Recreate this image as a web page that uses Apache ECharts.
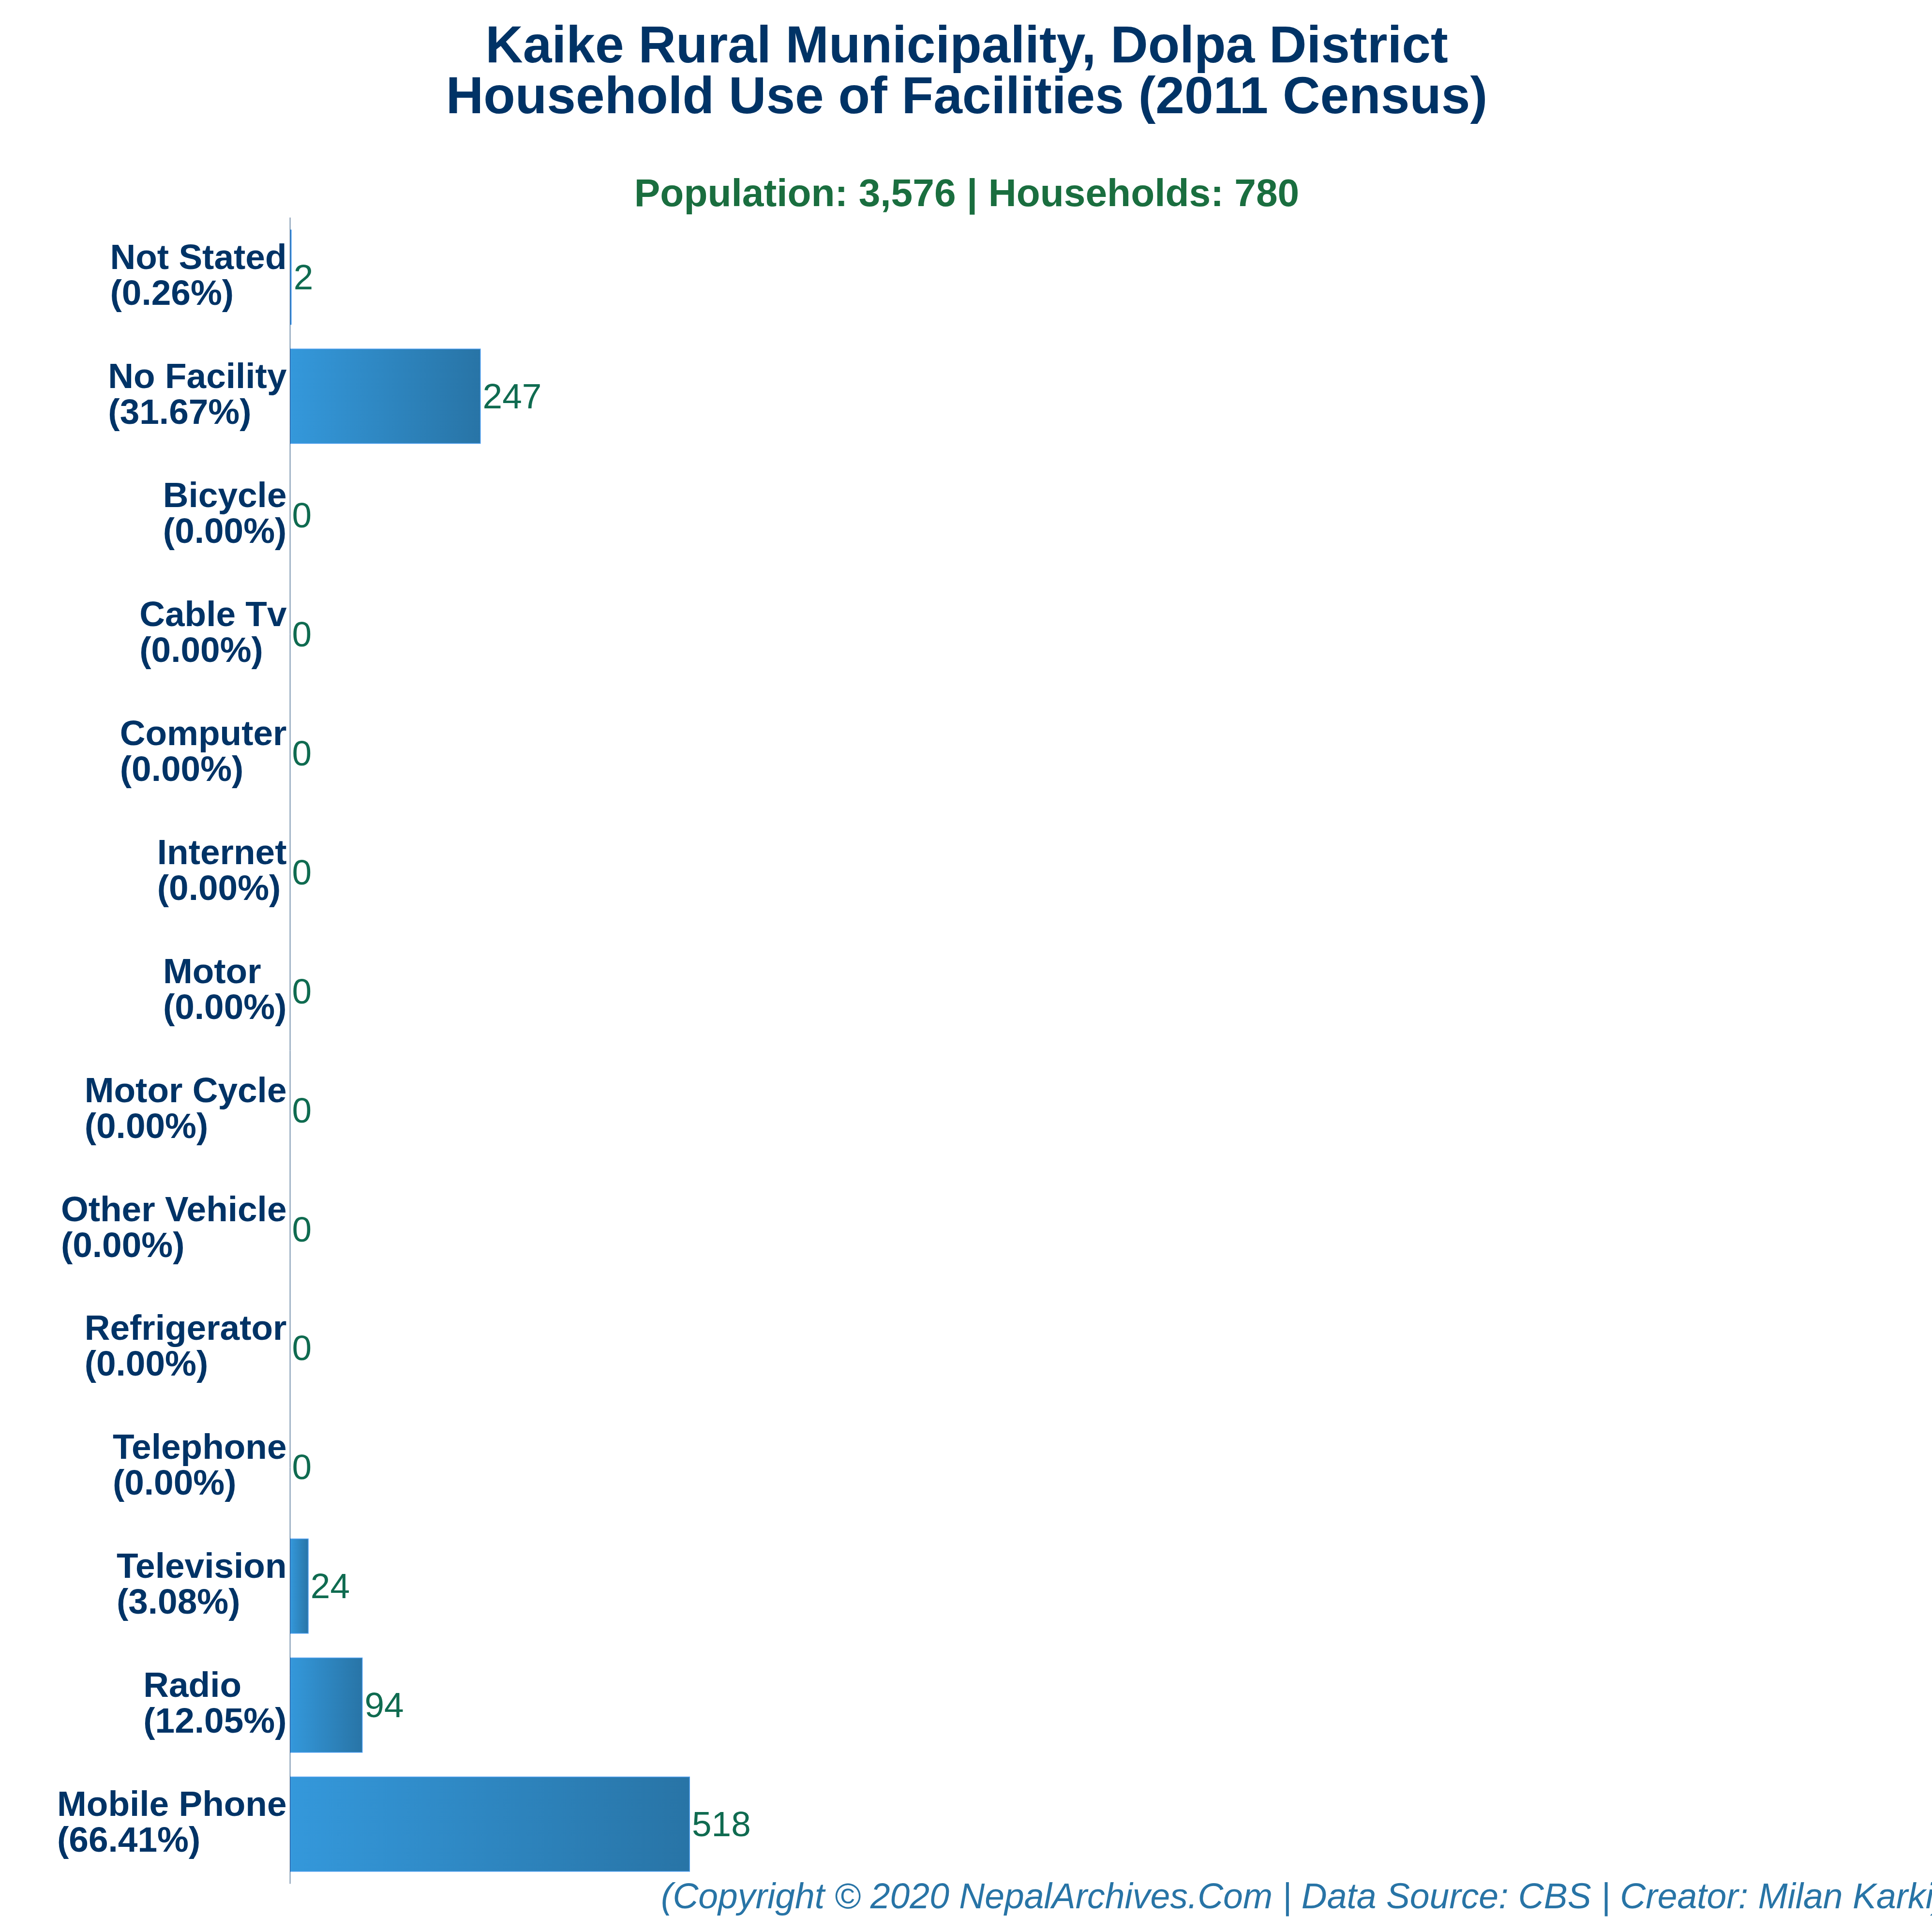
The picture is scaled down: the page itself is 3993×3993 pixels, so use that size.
<!DOCTYPE html>
<html>
<head>
<meta charset="utf-8">
<title>Kaike Rural Municipality</title>
<script src="https://cdn.jsdelivr.net/npm/echarts@6/dist/echarts.min.js"></script>
<style>html,body{margin:0;padding:0;background:#fff}#c{width:3993px;height:3993px}</style>
</head>
<body>
<div id="c"></div>
<script>
const categories = ["Not Stated","No Facility","Bicycle","Cable Tv","Computer","Internet","Motor","Motor Cycle","Other Vehicle","Refrigerator","Telephone","Television","Radio","Mobile Phone"];
const percents = ["0.26","31.67","0.00","0.00","0.00","0.00","0.00","0.00","0.00","0.00","0.00","3.08","12.05","66.41"];
const households = [2,247,0,0,0,0,0,0,0,0,0,24,94,518];
const titleText = "Kaike Rural Municipality, Dolpa District\nHousehold Use of Facilities (2011 Census)";
const subtitleText = "Population: 3,576 | Households: 780";
const creditText = "(Copyright © 2020 NepalArchives.Com | Data Source: CBS | Creator: Milan Karki)";
const FONT = "Liberation Sans";

const chart = echarts.init(document.getElementById('c'), null, {renderer:'canvas', width:3993, height:3993});
const fill = new echarts.graphic.LinearGradient(0,0,1,0,[{offset:0,color:'#3498db'},{offset:1,color:'#2874a6'}]);
chart.setOption({
  animation:false,
  backgroundColor:'#ffffff',
  title:[
    {text:titleText,left:1998,top:47,textAlign:'center',padding:0,
     textStyle:{fontFamily:FONT,fontWeight:'bold',fontSize:107.3,lineHeight:105,color:'#003366'}},
    {text:subtitleText,left:1998,top:359,textAlign:'center',padding:0,
     textStyle:{fontFamily:FONT,fontWeight:'bold',fontSize:80.3,lineHeight:90,color:'#1a6e3f'}},
    {text:creditText,left:1366,top:3882,padding:0,
     textStyle:{fontFamily:FONT,fontStyle:'italic',fontWeight:'normal',fontSize:73.3,lineHeight:84,color:'#2874a6'}}
  ],
  grid:{left:599.5,top:450,width:3191,height:3443,containLabel:false},
  xAxis:{type:'value',min:0,max:2000,show:false},
  yAxis:{type:'category',inverse:true,data:categories,z:5,
    axisTick:{show:false},
    axisLine:{show:true,lineStyle:{color:'#003366',width:1}},
    splitLine:{show:false},
    axisLabel:{interval:0,margin:7,align:'right',verticalAlign:'middle',
      formatter:(v,i)=>`{a|${v}}\n{a|(${percents[i]}%)}`,
      rich:{a:{align:'left',fontFamily:FONT,fontWeight:'bold',fontSize:73,lineHeight:74,color:'#003366'}}
    }
  },
  series:[{type:'bar',barCategoryGap:'20%',
    data:households.map(v=>({value:v,itemStyle:{color:fill,borderColor:'#4f9ff0',borderWidth:v>0?1.5:0}})),
    label:{show:true,position:'right',distance:4,offset:[0,5],fontFamily:FONT,fontSize:73,color:'#0f6b50'}
  }]
});
</script>
</body>
</html>
